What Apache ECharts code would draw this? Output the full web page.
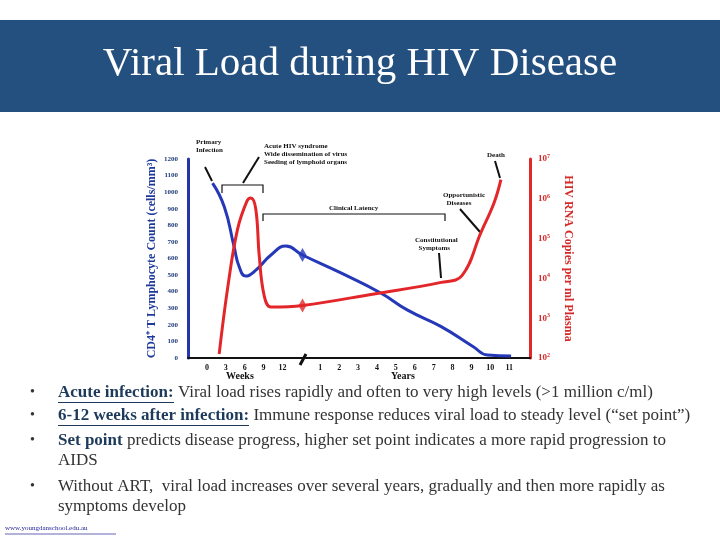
<!DOCTYPE html>
<html><head><meta charset="utf-8">
<script src="https://cdn.jsdelivr.net/npm/echarts@6/dist/echarts.min.js"></script>
<style>body{margin:0}#c{width:720px;height:540px}</style></head>
<body><div id="c"></div>
<script>
var chart = echarts.init(document.getElementById("c"))

// x positions: 0..4 = weeks 0,3,6,9,12 ; 5 = axis break ; 6..16 = years 1..11
var xTickLabels = ["", "0", "3", "6", "9", "12", "", "1", "2", "3", "4", "5", "6", "7", "8", "9", "10", "11", ""]
var cd4Points = [[0.3,1055],[0.92,912],[1.44,671],[1.71,550],[2.06,494],[2.59,530],[3.39,621],[4.18,675],[5.06,621],[7.09,513],[9.2,392],[10.6,290],[12.4,189],[14.1,68],[14.85,18],[16.1,12]]
// viral load as log10 copies/ml
var rnaPoints = [[0.65,2.1],[1.09,3.73],[1.62,5.23],[2.12,5.94],[2.33,6.02],[2.59,5.73],[2.77,4.57],[3.03,3.57],[3.39,3.28],[5.06,3.32],[8.85,3.61],[12.4,3.9],[13.5,4.07],[14.5,5.15],[15.2,5.9],[15.56,6.48]]
var cd4Marker = [[5.06,621]]
var rnaMarker = [[5.06,3.32]]

var serif = "Liberation Serif"
var bullets = [
  {y: 393, parts: [["Acute infection:", "u"], [" Viral load rises rapidly and often to very high levels (>1 million c/ml)", "n"]]},
  {y: 416, parts: [["6-12 weeks after infection:", "u"], [" Immune response reduces viral load to steady level (\u201cset point\u201d)", "n"]]},
  {y: 441, parts: [["Set point", "b"], [" predicts disease progress, higher set point indicates a more rapid progression to", "n"]]},
  {y: 487, parts: [["Without ART,  viral load increases over several years, gradually and then more rapidly as", "n"]]}
]

var graphics = [
  {type: "rect", shape: {x: 0, y: 20, width: 720, height: 92}, style: {fill: "#24507f"}},
  {type: "text", left: "center", top: 44, style: {text: "Viral Load during HIV Disease", fill: "#fff", font: "41px " + serif}},
  {type: "text", x: 196, y: 138, style: {text: "Primary\nInfection", font: "bold 7px " + serif, fill: "#111", lineHeight: 8}},
  {type: "text", x: 264, y: 142, style: {text: "Acute HIV syndrome\nWide dissemination of virus\nSeeding of lymphoid organs", font: "bold 7px " + serif, fill: "#111", lineHeight: 8}},
  {type: "text", x: 487, y: 152, style: {text: "Death", font: "bold 7px " + serif, fill: "#111"}},
  {type: "text", x: 443, y: 191, style: {text: "Opportunistic\n  Diseases", font: "bold 7px " + serif, fill: "#111", lineHeight: 8}},
  {type: "text", x: 329, y: 205, style: {text: "Clinical Latency", font: "bold 7px " + serif, fill: "#111"}},
  {type: "text", x: 415, y: 236, style: {text: "Constitutional\n  Symptoms", font: "bold 7px " + serif, fill: "#111", lineHeight: 8}},
  {type: "polyline", shape: {points: [[222,193],[222,185],[263,185],[263,193]]}, style: {stroke: "#111", lineWidth: 1.2, fill: null}},
  {type: "polyline", shape: {points: [[263,221],[263,214],[445,214],[445,221]]}, style: {stroke: "#111", lineWidth: 1.2, fill: null}},
  {type: "line", shape: {x1: 205, y1: 167, x2: 212, y2: 181}, style: {stroke: "#111", lineWidth: 2}},
  {type: "line", shape: {x1: 259, y1: 157, x2: 243, y2: 183}, style: {stroke: "#111", lineWidth: 2}},
  {type: "line", shape: {x1: 495, y1: 161, x2: 500, y2: 178}, style: {stroke: "#111", lineWidth: 2}},
  {type: "line", shape: {x1: 460, y1: 209, x2: 480, y2: 232}, style: {stroke: "#111", lineWidth: 2}},
  {type: "line", shape: {x1: 439, y1: 253, x2: 441, y2: 278}, style: {stroke: "#111", lineWidth: 2}},
  {type: "line", shape: {x1: 300, y1: 365, x2: 306, y2: 354}, style: {stroke: "#111", lineWidth: 3}},
  {type: "text", x: 226, y: 371, style: {text: "Weeks", font: "bold 10px " + serif, fill: "#111"}},
  {type: "text", x: 391, y: 371, style: {text: "Years", font: "bold 10px " + serif, fill: "#111"}},
  {type: "text", x: 5, y: 525, style: {text: "www.youngdanschool.edu.au", font: "7px " + serif, fill: "#22229a"}},
  {type: "line", shape: {x1: 5, y1: 534, x2: 116, y2: 534}, style: {stroke: "#22229a", lineWidth: 0.7}},
  {type: "line", shape: {x1: 58, y1: 402.5, x2: 174, y2: 402.5}, style: {stroke: "#1d3a5a", lineWidth: 1.2}},
  {type: "line", shape: {x1: 58, y1: 425.5, x2: 249, y2: 425.5}, style: {stroke: "#1d3a5a", lineWidth: 1.2}},
  {type: "text", x: 58, y: 452, style: {text: "AIDS", font: "17px " + serif, fill: "#333"}},
  {type: "text", x: 58, y: 498, style: {text: "symptoms develop", font: "17px " + serif, fill: "#333"}}
]
bullets.forEach(function (b) {
  graphics.push({type: "text", x: 30, y: b.y - 8, style: {text: "\u2022", font: "14px " + serif, fill: "#333"}})
  var rich = {
    u: {font: "bold 17px " + serif, fill: "#1d3a5a"},
    b: {font: "bold 17px " + serif, fill: "#1d3a5a"},
    n: {font: "17px " + serif, fill: "#333"}
  }
  graphics.push({type: "text", x: 58, y: b.y - 9, style: {
    text: b.parts.map(function (p) { return "{" + p[1] + "|" + p[0] + "}" }).join(""),
    rich: rich}})
})

var option = {
  backgroundColor: "#fff",
  textStyle: {fontFamily: serif},
  grid: {left: 188, right: 190, top: 159, bottom: 182},
  xAxis: {
    type: "value", min: -1, max: 17.1, interval: 1,
    axisLine: {lineStyle: {color: "#111", width: 2}},
    axisTick: {show: false}, splitLine: {show: false},
    axisLabel: {fontSize: 8, fontWeight: "bold", color: "#111", margin: 6, showMaxLabel: false,
      formatter: function (v) { return xTickLabels[Math.round(v) + 1] || "" }}
  },
  yAxis: [{
    type: "value", min: 0, max: 1200, interval: 100,
    name: "CD4\u207a T Lymphocyte Count (cells/mm\u00b3)", nameLocation: "middle", nameGap: 30,
    nameTextStyle: {color: "#1d3a9a", fontSize: 12, fontWeight: "bold"},
    axisLine: {show: true, onZero: false, lineStyle: {color: "#2436a8", width: 3}},
    axisTick: {show: false}, splitLine: {show: false},
    axisLabel: {fontSize: 7, fontWeight: "bold", color: "#1d3a7a", margin: 10, formatter: function (v) { return String(v) }}
  }, {
    type: "value", min: 2, max: 7, interval: 1, position: "right",
    name: "HIV RNA Copies per ml Plasma", nameLocation: "middle", nameGap: 32, nameRotate: -90,
    nameTextStyle: {color: "#d52a2a", fontSize: 12, fontWeight: "bold"},
    axisLine: {show: true, onZero: false, lineStyle: {color: "#e02a2a", width: 3}},
    axisTick: {show: false}, splitLine: {show: false},
    axisLabel: {margin: 8, formatter: function (v) { return "{b|10}{s|" + v + "}" },
      rich: {b: {fontSize: 9, fontWeight: "bold", color: "#d52a2a"}, s: {fontSize: 6, fontWeight: "bold", color: "#d52a2a", verticalAlign: "top", padding: [0, 0, 5, 0]}}}
  }],
  graphic: graphics,
  series: [
    {type: "line", data: cd4Points, smooth: 0.5, symbol: "none", lineStyle: {color: "#2438b8", width: 3}, z: 3},
    {type: "line", yAxisIndex: 1, data: rnaPoints, smooth: 0.4, symbol: "none", lineStyle: {color: "#e3262a", width: 3}, z: 3},
    {type: "scatter", data: cd4Marker, symbol: "diamond", symbolSize: [8, 14], itemStyle: {color: "#2438b8"}, z: 4},
    {type: "scatter", yAxisIndex: 1, data: rnaMarker, symbol: "diamond", symbolSize: [8, 14], itemStyle: {color: "#e3262a"}, z: 4}
  ]
}
chart.setOption(option)
</script></body></html>
